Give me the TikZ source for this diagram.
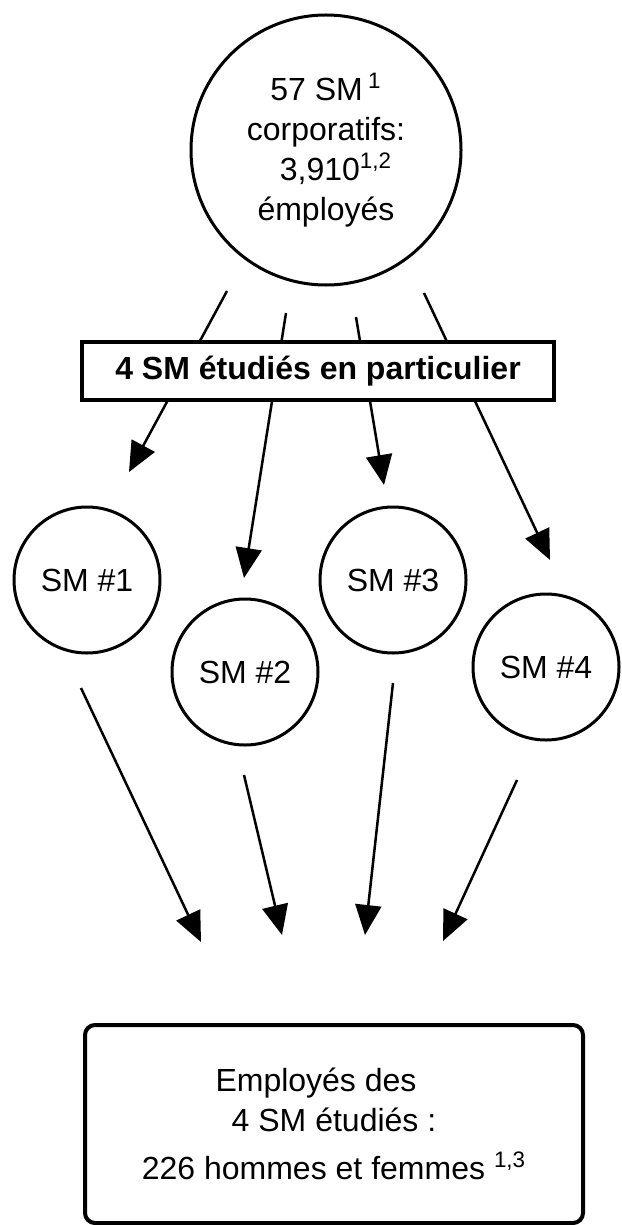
\documentclass[tikz,border=0pt]{standalone}
\usepackage{fontspec}
\setmainfont{Liberation Sans}
\usetikzlibrary{arrows.meta}
\begin{document}
\begin{tikzpicture}[x=0.5pt,y=-0.5pt,
  every node/.style={font=\fontsize{16}{20}\selectfont,align=center,inner sep=0pt},
  smcircle/.style={draw,circle,line width=1.5pt,minimum size=73pt},
  arr/.style={line width=1.25pt,-{Triangle[length=15pt,width=13pt]}}]
\useasboundingbox (0,0) rectangle (621,1225);
\node[draw,circle,line width=1.5pt,minimum size=135pt] (corp) at (326,150)
  {57 SM\,\textsuperscript{1}\\corporatifs:\\\hspace*{10pt}3,910\textsuperscript{1,2}\\émployés};
\coordinate (a1s) at (227,291); \coordinate (a1t) at (129,472);
\coordinate (a2s) at (286,313); \coordinate (a2t) at (244,578);
\coordinate (a3s) at (356,317); \coordinate (a3t) at (384,485);
\coordinate (a4s) at (424,293); \coordinate (a4t) at (550,560);
\draw[arr] (a1s) -- (a1t);
\draw[arr] (a2s) -- (a2t);
\draw[arr] (a3s) -- (a3t);
\draw[arr] (a4s) -- (a4t);
\node[draw,fill=white,line width=2pt,minimum width=236pt,minimum height=29pt,font=\fontsize{16}{20}\selectfont\bfseries] (banner) at (318,371) {4 SM étudiés en particulier};
\node[smcircle] (sm1) at (87,580) {SM \#1};
\node[smcircle] (sm2) at (245,672) {SM \#2};
\node[smcircle] (sm3) at (393,580) {SM \#3};
\node[smcircle] (sm4) at (546,667) {SM \#4};
\coordinate (b1s) at (81,688);  \coordinate (b1t) at (201,942);
\coordinate (b2s) at (244,775); \coordinate (b2t) at (282,935);
\coordinate (b3s) at (393,683); \coordinate (b3t) at (365,935);
\coordinate (b4s) at (517,780); \coordinate (b4t) at (443,941);
\draw[arr] (b1s) -- (b1t);
\draw[arr] (b2s) -- (b2t);
\draw[arr] (b3s) -- (b3t);
\draw[arr] (b4s) -- (b4t);
\node[draw,rounded corners=5pt,line width=2pt,minimum width=249pt,minimum height=99pt] (staff) at (334,1124)
  {Employés des\hspace*{18pt}\\4 SM étudiés :\hspace*{8pt}\\[4pt]226 hommes et femmes \textsuperscript{1,3}};
\end{tikzpicture}
\end{document}
